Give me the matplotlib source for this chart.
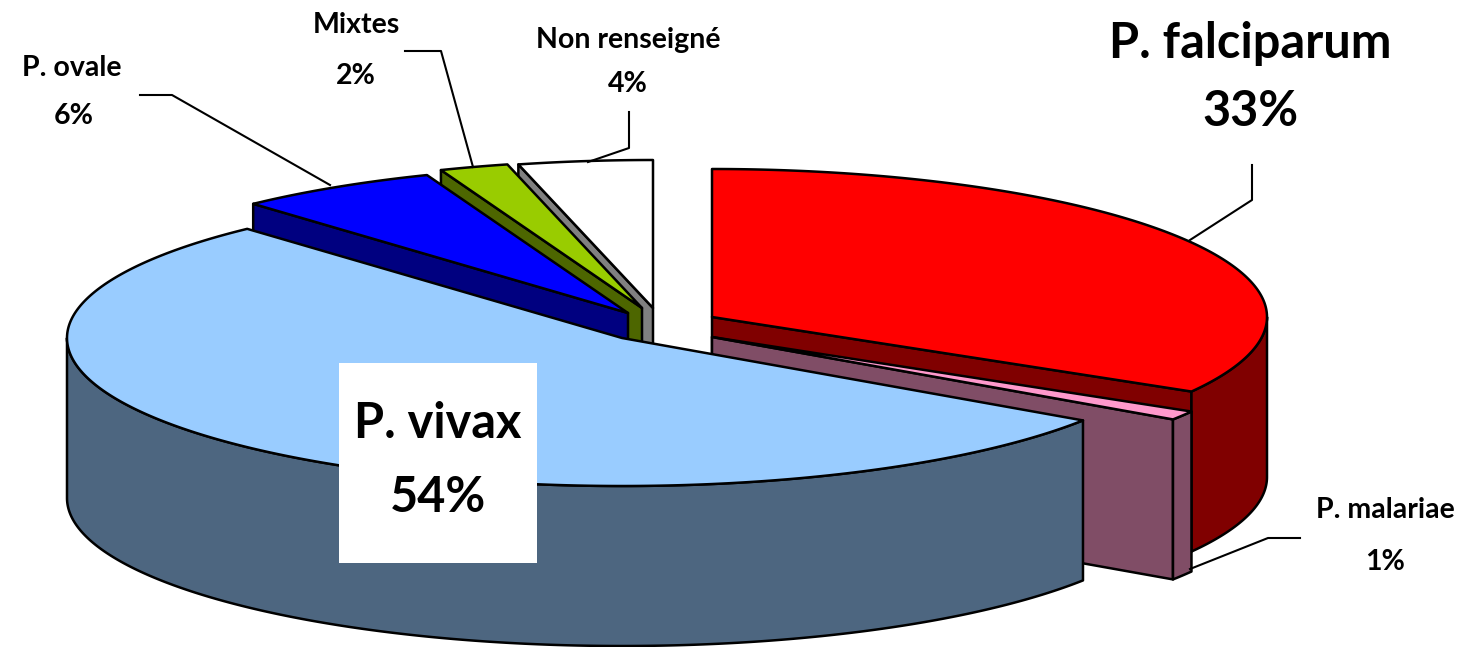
import numpy as np
import matplotlib
matplotlib.use("Agg")
import matplotlib.pyplot as plt
from matplotlib.patches import Polygon, Rectangle

# labels show rounded percentages, the angles in the picture fit one decimal better
names = ["P. falciparum", "P. malariae", "P. vivax", "P. ovale", "Mixtes", "Non renseigné"]
values = [33.4, 1.0, 53.8, 5.9, 2.0, 3.9]
top_colors = ["#FF0000", "#FF99CC", "#99CCFF", "#0000FF", "#99CC00", "#FFFFFF"]
side_colors = ["#800000", "#804D66", "#4D6680", "#000080", "#4D6600", "#808080"]

# where each exploded slice has its apex, in pixels of the picture
apex = [(712, 317), (712, 337), (622, 338), (628, 313), (642, 308), (653, 308)]
rx, ry, depth = 555, 148, 160
draw_order = [5, 4, 3, 0, 1, 2]   # back slices first, the front one covers them

# label centre, percent centre, font size
label_pos = [
    ((1250, 43), (1250, 112), 35),
    ((1385, 510), (1385, 562), 20.5),
    ((438, 423), (438, 497), 35),
    ((72, 68), (74, 116), 20.5),
    ((356, 25), (356, 76), 20.5),
    ((628, 40), (628, 84), 20.5),
]
leaders = [
    [(1252, 165), (1252, 200), (1190, 240)],
    [(1190, 569), (1268, 538), (1300, 538)],
    [(140, 95), (172, 95), (330, 185)],
    [(405, 51), (441, 51), (473, 167)],
    [(629, 112), (629, 148), (588, 162)],
]

fig = plt.figure(figsize=(14.79, 6.47), dpi=100)
ax = fig.add_axes([0, 0, 1, 1])
ax.set_xlim(0, 1479)
ax.set_ylim(647, 0)
ax.axis("off")


def arc(c, a, b, dy=0):
    # angles in degrees, clockwise from 12 o'clock
    t = np.radians(np.linspace(a, b, max(int(abs(b - a) * 2), 2)))
    return np.column_stack([c[0] + rx * np.sin(t), c[1] - ry * np.cos(t) + dy])


def edge(pts, color):
    ax.add_patch(Polygon(pts, closed=True, facecolor=color, edgecolor="black", linewidth=1.8, joinstyle="round"))


def cut_face(c, t, color):
    p = arc(c, t, t + 0.01)[0]
    edge([c, p, (p[0], p[1] + depth), (c[0], c[1] + depth)], color)


ends = np.cumsum(values) * 3.6
starts = ends - np.array(values) * 3.6

for i in draw_order:
    c, a, b = apex[i], starts[i], ends[i]
    # a cut face shows only when it turns towards the viewer
    if 180 < a < 360:
        cut_face(c, a, side_colors[i])
    if 0 < b < 180:
        cut_face(c, b, side_colors[i])
    # outer wall, front half of the ellipse only
    lo, hi = max(a, 90), min(b, 270)
    if lo < hi:
        edge(np.vstack([arc(c, lo, hi), arc(c, hi, lo, depth)]), side_colors[i])
    edge(np.vstack([[c], arc(c, a, b)]), top_colors[i])

for pts in leaders:
    xs, ys = zip(*pts)
    ax.plot(xs, ys, color="black", linewidth=1.5)

ax.add_patch(Rectangle((339, 363), 198, 200, facecolor="white", edgecolor="none"))

for name, v, (p1, p2, size) in zip(names, values, label_pos):
    ax.text(p1[0], p1[1], name, family="Lato", weight="bold", fontsize=size, ha="center", va="center")
    ax.text(p2[0], p2[1], "{:.0f}%".format(v), family="Lato", weight="bold", fontsize=size, ha="center", va="center")

fig.savefig("out.png", dpi=100)
